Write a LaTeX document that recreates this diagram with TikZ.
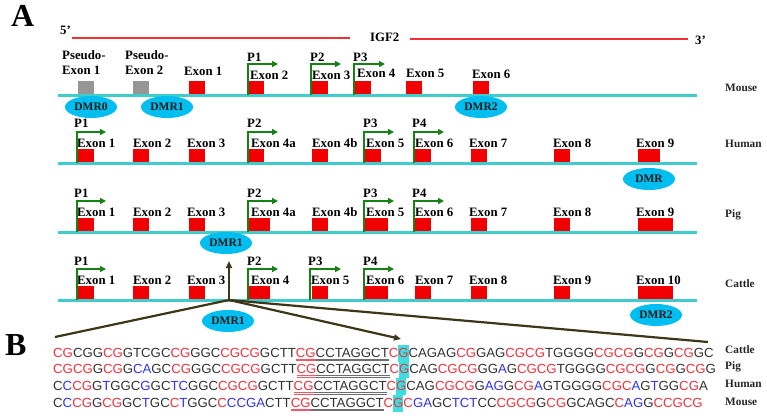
\documentclass[tikz,border=0pt]{standalone}
\usepackage{fontspec}
\setmainfont{Liberation Serif}
\newfontfamily\seqfont{Liberation Sans}
\usetikzlibrary{arrows.meta,shapes.geometric}
\definecolor{exred}{RGB}{240,0,0}
\definecolor{psgray}{RGB}{150,150,150}
\definecolor{chromcyan}{RGB}{64,204,204}
\definecolor{promogreen}{RGB}{22,130,22}
\definecolor{dmrblue}{RGB}{0,190,240}
\definecolor{topred}{RGB}{240,50,50}
\definecolor{darkolive}{RGB}{60,55,25}
\definecolor{seqred}{RGB}{240,50,60}
\definecolor{seqblue}{RGB}{50,50,240}
\definecolor{seqdark}{RGB}{50,50,50}
\definecolor{ulred}{RGB}{240,90,100}
\definecolor{ulgray}{RGB}{110,110,110}
\definecolor{hlcyan}{RGB}{60,222,226}
\newcommand\sR[1]{\textcolor{seqred}{#1}}
\newcommand\sB[1]{\textcolor{seqblue}{#1}}
\newcommand\sK[1]{\textcolor{seqdark}{#1}}
\newcommand\sUr[1]{\setbox0=\hbox{#1}\rlap{\color{ulred}\rule[-2.2pt]{\wd0}{0.7pt}}\rlap{\color{ulred}\rule[-3.8pt]{\wd0}{0.7pt}}\box0}
\newcommand\sUg[1]{\setbox0=\hbox{#1}\rlap{\color{ulgray}\rule[-2.2pt]{\wd0}{0.7pt}}\rlap{\color{ulgray}\rule[-3.8pt]{\wd0}{0.7pt}}\box0}
\newcommand\sH[1]{\setbox0=\hbox{#1}\rlap{\color{hlcyan}\rule[-4.6pt]{\wd0}{16.8pt}}\box0}
\tikzset{
  lbl/.style={font=\bfseries\fontsize{12.8}{14}\selectfont, inner sep=0pt, anchor=base west, text=black},
  spl/.style={font=\bfseries\fontsize{11.3}{13}\selectfont, inner sep=0pt, anchor=base west, text=black!85},
  big/.style={font=\bfseries\fontsize{32}{34}\selectfont, inner sep=0pt, anchor=base west},
  exon/.style={fill=exred, draw=none, minimum height=14pt, minimum width=16pt, inner sep=0pt, anchor=south west},
  pseudo/.style={exon, fill=psgray},
  chrom/.style={draw=chromcyan, line width=3pt},
  genebar/.style={draw=topred, line width=1.6pt},
  promo/.style={draw=promogreen, line width=2pt, -{Triangle[length=6pt,width=6pt]}},
  dmr/.style={ellipse, fill=dmrblue, draw=none, minimum width=52pt, minimum height=22pt, inner sep=0pt, font=\bfseries\fontsize{11.5}{12}\selectfont, text=black!90},
  darrow/.style={draw=darkolive, line width=2.2pt},
  seq/.style={font=\seqfont\fontsize{13.2}{16}\selectfont, inner sep=0pt, anchor=base west},
}
\begin{document}
\begin{tikzpicture}[x=1pt,y=-1pt]
\useasboundingbox (0,0) rectangle (767,417);
\fill[white] (0,0) rectangle (767,417);
% ---- headers
\node[big] (A) at (11,27) {A};
\node[big] (B) at (5,355) {B};
\node[lbl] (p5) at (60,35) {5’};
\node[lbl] (igf) at (370,42) {IGF2};
\node[lbl] (p3) at (695,45) {3’};
\coordinate (r1a) at (72,38); \coordinate (r1b) at (350,38);
\coordinate (r2a) at (410,39); \coordinate (r2b) at (688,39);
\draw[genebar] (r1a) -- (r1b);
\draw[genebar] (r2a) -- (r2b);
% ---- species labels
\node[spl] (sp-m) at (725,91.5) {Mouse};
\node[spl] (sp-h) at (725,147.5) {Human};
\node[spl] (sp-p) at (725,217.5) {Pig};
\node[spl] (sp-c) at (725,287) {Cattle};
% ================= MOUSE (line 95.5)
\node[pseudo] (m-ps1) at (78,95.5) {};
\node[pseudo] (m-ps2) at (133,95.5) {};
\node[exon] (m-e1) at (189,95.5) {};
\node[exon] (m-e2) at (248,95.5) {};
\node[exon] (m-e3) at (312,95.5) {};
\node[exon] (m-e4) at (355,95.5) {};
\node[exon] (m-e5) at (406,95.5) {};
\node[exon] (m-e6) at (473,95.5) {};
\coordinate (m-l0) at (58,95.5); \coordinate (m-l1) at (697,95.5);
\draw[chrom] (m-l0) -- (m-l1);
\node[lbl] (m-t-ps1a) at (62,60) {Pseudo-};
\node[lbl] (m-t-ps1b) at (62,75) {Exon 1};
\node[lbl] (m-t-ps2a) at (125,60) {Pseudo-};
\node[lbl] (m-t-ps2b) at (125,75) {Exon 2};
\node[lbl] (m-t1) at (184,75.5) {Exon 1};
\node[lbl] (m-t2) at (250,79.5) {Exon 2};
\node[lbl] (m-t3) at (312,79.5) {Exon 3};
\node[lbl] (m-t4) at (357,78) {Exon 4};
\node[lbl] (m-t5) at (406,77.5) {Exon 5};
\node[lbl] (m-t6) at (472,79) {Exon 6};
\node[lbl] (m-P1) at (247,62) {P1};
\node[lbl] (m-P2) at (310,62) {P2};
\node[lbl] (m-P3) at (353,62) {P3};
\draw[promo] (247.5,95.5) |- (278,64);
\draw[promo] (310.5,95.5) |- (341,64);
\draw[promo] (353.5,95.5) |- (385,64);
\node[dmr] (m-dmr0) at (91,107) {DMR0};
\node[dmr] (m-dmr1) at (167,107) {DMR1};
\node[dmr] (m-dmr2) at (481,107) {DMR2};
% ================= HUMAN (line 163)
\node[exon, minimum width=17pt] (h-e1) at (77,163) {};
\node[exon] (h-e2) at (133,163) {};
\node[exon] (h-e3) at (189,163) {};
\node[exon] (h-e4a) at (248,163) {};
\node[exon] (h-e4b) at (312,163) {};
\node[exon] (h-e5) at (365,163) {};
\node[exon] (h-e6) at (415,163) {};
\node[exon] (h-e7) at (471,163) {};
\node[exon] (h-e8) at (554,163) {};
\node[exon, minimum width=22pt] (h-e9) at (638,163) {};
\coordinate (h-l0) at (58,163); \coordinate (h-l1) at (697,163);
\draw[chrom] (h-l0) -- (h-l1);
\node[lbl] (h-t1) at (77,147) {Exon 1};
\node[lbl] (h-t2) at (133,147) {Exon 2};
\node[lbl] (h-t3) at (187,147) {Exon 3};
\node[lbl] (h-t4a) at (251,147.5) {Exon 4a};
\node[lbl] (h-t4b) at (312,147) {Exon 4b};
\node[lbl] (h-t5) at (366,147) {Exon 5};
\node[lbl] (h-t6) at (415,147) {Exon 6};
\node[lbl] (h-t7) at (469,147) {Exon 7};
\node[lbl] (h-t8) at (553,147) {Exon 8};
\node[lbl] (h-t9) at (636,147) {Exon 9};
\node[lbl] (h-P1) at (74,128) {P1};
\node[lbl] (h-P2) at (247,128) {P2};
\node[lbl] (h-P3) at (363,128) {P3};
\node[lbl] (h-P4) at (412,128) {P4};
\draw[promo] (76.5,163) |- (106,132);
\draw[promo] (247.5,163) |- (278,132);
\draw[promo] (363.5,163) |- (394,132);
\draw[promo] (413.5,163) |- (444,132);
\node[dmr] (h-dmr) at (649,179) {DMR};
% ================= PIG (line 232)
\node[exon, minimum width=17pt] (p-e1) at (77,232) {};
\node[exon] (p-e2) at (133,232) {};
\node[exon] (p-e3) at (189,232) {};
\node[exon, minimum width=22pt] (p-e4a) at (248,232) {};
\node[exon] (p-e4b) at (312,232) {};
\node[exon, minimum width=23pt] (p-e5) at (365,232) {};
\node[exon] (p-e6) at (415,232) {};
\node[exon] (p-e7) at (471,232) {};
\node[exon] (p-e8) at (554,232) {};
\node[exon, minimum width=35pt] (p-e9) at (638,232) {};
\coordinate (p-l0) at (58,232); \coordinate (p-l1) at (697,232);
\draw[chrom] (p-l0) -- (p-l1);
\node[lbl] (p-t1) at (77,216) {Exon 1};
\node[lbl] (p-t2) at (133,216) {Exon 2};
\node[lbl] (p-t3) at (187,216) {Exon 3};
\node[lbl] (p-t4a) at (251,216.5) {Exon 4a};
\node[lbl] (p-t4b) at (312,216) {Exon 4b};
\node[lbl] (p-t5) at (366,216) {Exon 5};
\node[lbl] (p-t6) at (415,216) {Exon 6};
\node[lbl] (p-t7) at (469,216) {Exon 7};
\node[lbl] (p-t8) at (553,216) {Exon 8};
\node[lbl] (p-t9) at (636,216) {Exon 9};
\node[lbl] (p-P1) at (74,197) {P1};
\node[lbl] (p-P2) at (247,197) {P2};
\node[lbl] (p-P3) at (363,197) {P3};
\node[lbl] (p-P4) at (412,197) {P4};
\draw[promo] (76.5,232) |- (106,201);
\draw[promo] (247.5,232) |- (278,201);
\draw[promo] (363.5,232) |- (394,201);
\draw[promo] (413.5,232) |- (444,201);
\node[dmr] (p-dmr1) at (226,243) {DMR1};
% ================= CATTLE (line 300)
\node[exon, minimum width=17pt] (c-e1) at (77,300) {};
\node[exon] (c-e2) at (133,300) {};
\node[exon] (c-e3) at (189,300) {};
\node[exon, minimum width=22pt] (c-e4) at (248,300) {};
\node[exon] (c-e5) at (312,300) {};
\node[exon, minimum width=23pt] (c-e6) at (365,300) {};
\node[exon] (c-e7) at (415,300) {};
\node[exon] (c-e8) at (471,300) {};
\node[exon] (c-e9) at (554,300) {};
\node[exon, minimum width=35pt] (c-e10) at (638,300) {};
\coordinate (c-l0) at (58,300); \coordinate (c-l1) at (697,300);
\draw[chrom] (c-l0) -- (c-l1);
\node[lbl] (c-t1) at (77,284) {Exon 1};
\node[lbl] (c-t2) at (133,284) {Exon 2};
\node[lbl] (c-t3) at (187,284) {Exon 3};
\node[lbl] (c-t4) at (251,284.5) {Exon 4};
\node[lbl] (c-t5) at (311,284) {Exon 5};
\node[lbl] (c-t6) at (366,284) {Exon 6};
\node[lbl] (c-t7) at (415,284) {Exon 7};
\node[lbl] (c-t8) at (469,284) {Exon 8};
\node[lbl] (c-t9) at (553,284) {Exon 9};
\node[lbl] (c-t10) at (636,284) {Exon 10};
\node[lbl] (c-P1) at (74,265) {P1};
\node[lbl] (c-P2) at (247,265) {P2};
\node[lbl] (c-P3) at (308,265) {P3};
\node[lbl] (c-P4) at (363,265) {P4};
\draw[promo] (76.5,300) |- (106,269);
\draw[promo] (247.5,300) |- (278,269);
\draw[promo] (310,300) |- (341,269);
\draw[promo] (363.5,300) |- (394,269);
% ---- connectors from cattle DMR1 region
\coordinate (apex) at (229,300);
\coordinate (upend) at (229,261);
\coordinate (leftend) at (55,337);
\coordinate (rightend) at (708,342);
\coordinate (gend) at (401,339);
\draw[darrow] (apex) -- (leftend);
\draw[darrow] (apex) -- (rightend);
\draw[darrow, -{Triangle[length=7pt,width=6pt]}] (apex) -- (gend);
\draw[darrow, -{Triangle[length=7pt,width=6pt]}] (apex) -- (upend);
\node[dmr] (c-dmr1) at (228,321) {DMR1};
\node[dmr] (c-dmr2) at (656,315) {DMR2};
% ---- sequences
\node[seq] (s-c) at (53,357) {\sR{CG}\sK{CGG}\sR{CG}\sK{GTCGC}\sR{CG}\sK{GGC}\sR{CGCG}\sK{GCTT}\sUr{\sR{CG}}\sUg{\sK{CCTAGGCT}}\sR{C}\sH{\sR{G}}\sK{CAGAG}\sR{CG}\sK{GAG}\sR{CGCG}\sK{TGGGG}\sR{CGCG}\sK{G}\sR{CG}\sK{G}\sR{CG}\sK{GC}};
\node[seq] (s-p) at (53,373.7) {\sR{CGCG}\sK{G}\sR{CG}\sK{G}\sB{CA}\sK{GC}\sR{CG}\sK{GGC}\sR{CGCG}\sK{GCTT}\sUr{\sR{CG}}\sUg{\sK{CCTAGGCT}}\sR{C}\sH{\sR{G}}\sK{CAG}\sR{CGCG}\sK{GG}\sB{A}\sK{G}\sR{CGCG}\sK{TGGGG}\sR{CGCG}\sK{G}\sR{CG}\sK{G}\sR{CG}\sK{G}};
\node[seq] (s-h) at (53,390.4) {\sK{C}\sB{C}\sR{CG}\sK{G}\sB{T}\sK{GGC}\sB{G}\sK{GC}\sB{TC}\sK{GGC}\sR{CGCG}\sK{GCTT}\sUr{\sR{CG}}\sUg{\sK{CCTAGGCT}}\sR{C}\sH{\sR{G}}\sK{CAG}\sR{CGCG}\sK{G}\sB{AG}\sK{G}\sR{CG}\sB{A}\sK{GTGGGG}\sR{CGC}\sB{A}\sK{G}\sB{T}\sK{GG}\sR{CG}\sK{A}};
\node[seq] (s-m) at (53,407.1) {\sK{C}\sB{C}\sR{CG}\sK{G}\sR{CG}\sK{GC}\sB{T}\sK{GC}\sR{C}\sB{T}\sK{GGC}\sR{C}\sB{CCGA}\sK{CTT}\sUr{\sR{CG}}\sUg{\sK{CCTAGGCT}}\sR{C}\sH{\sR{G}}\sR{C}\sB{GA}\sK{GC}\sB{TCT}\sK{CC}\sR{CGCG}\sK{G}\sR{CG}\sK{GCAGC}\sR{C}\sB{AG}\sK{G}\sR{CCGCG}};
\node[spl] (sl-c) at (725,353) {Cattle};
\node[spl] (sl-p) at (725,369.5) {Pig};
\node[spl] (sl-h) at (725,387) {Human};
\node[spl] (sl-m) at (725,405) {Mouse};
\end{tikzpicture}
\end{document}
